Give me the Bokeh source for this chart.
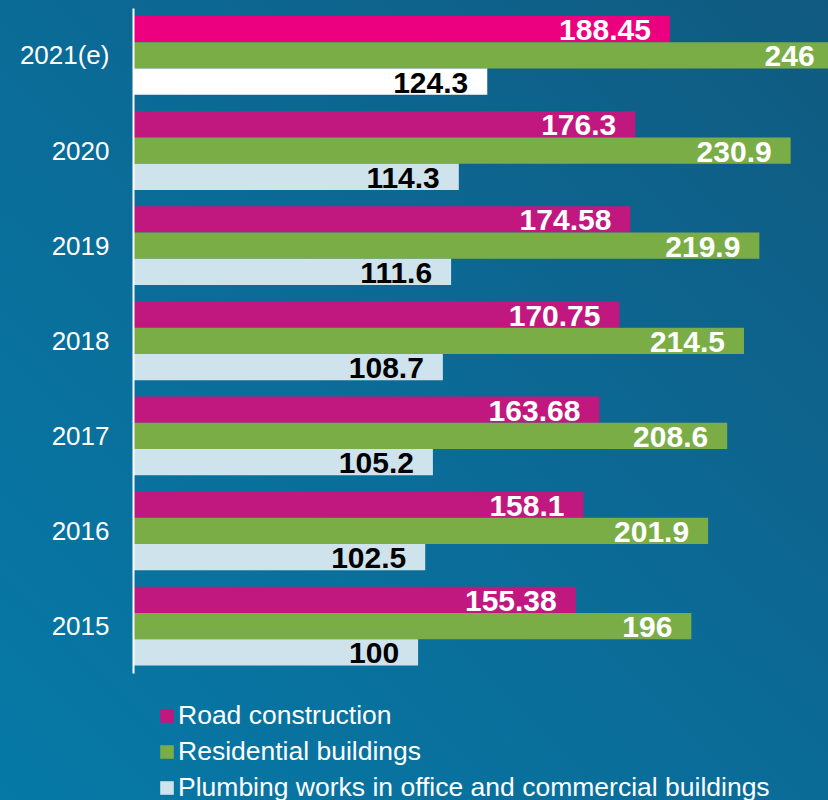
from bokeh.plotting import figure
from bokeh.models import ColumnDataSource, Legend, LegendItem, Range1d, FixedTicker
from bokeh.core.properties import value
from bokeh.embed import file_html
from bokeh.resources import INLINE

years = ["2015", "2016", "2017", "2018", "2019", "2020", "2021(e)"]
road = [155.38, 158.1, 163.68, 170.75, 174.58, 176.3, 188.45]
residential = [196, 201.9, 208.6, 214.5, 219.9, 230.9, 246]
plumbing = [100, 102.5, 105.2, 108.7, 111.6, 114.3, 124.3]

road_lbl = ["155.38", "158.1", "163.68", "170.75", "174.58", "176.3", "188.45"]
res_lbl = ["196", "201.9", "208.6", "214.5", "219.9", "230.9", "246"]
plu_lbl = ["100", "102.5", "105.2", "108.7", "111.6", "114.3", "124.3"]

road_col = ["#c0187f"] * 6 + ["#ec0080"]
res_col = ["#7bad47"] * 7
plu_col = ["#cfe3ec"] * 6 + ["#ffffff"]

h = 0.276
off = 0.276
pos = list(range(len(years)))

src = ColumnDataSource(dict(
    ypos=pos,
    y_road=[v + off for v in pos],
    y_res=pos,
    y_plu=[v - off for v in pos],
    road=road, residential=residential, plumbing=plumbing,
    road_lbl=road_lbl, res_lbl=res_lbl, plu_lbl=plu_lbl,
    road_col=road_col, res_col=res_col, plu_col=plu_col,
))

p = figure(width=828, height=800,
           y_range=Range1d(-1.834, 6.494),
           x_range=Range1d(0, 244.2), output_backend="svg",
           toolbar_location=None, min_border_left=133, min_border_right=0,
           min_border_top=8, min_border_bottom=0)

p.styles = {"background": "linear-gradient(to top right, #0679a6 0%, #0b6b97 50%, #105a80 100%)"}
p.background_fill_alpha = 0
p.border_fill_alpha = 0
p.outline_line_color = None
p.xgrid.visible = False
p.ygrid.visible = False
p.xaxis.visible = False

ax = p.yaxis[0]
ax.ticker = FixedTicker(ticks=pos)
ax.major_label_overrides = {i: y for i, y in zip(pos, years)}
ax.bounds = (-0.5, len(years) - 0.5)
ax.axis_line_color = "white"
ax.axis_line_width = 2
ax.major_tick_line_color = None
ax.minor_tick_line_color = None
ax.major_tick_out = 0
ax.major_tick_in = 0
ax.major_label_standoff = 24
ax.major_label_text_color = "white"
ax.major_label_text_font = "Liberation Sans"
ax.major_label_text_font_size = "26px"

r1 = p.hbar(y="y_road", right="road", left=0, height=h,
            fill_color="road_col", line_color=None, source=src)
r2 = p.hbar(y="y_res", right="residential", left=0, height=h,
            fill_color="res_col", line_color=None, source=src)
r3 = p.hbar(y="y_plu", right="plumbing", left=0, height=h,
            fill_color="plu_col", line_color=None, source=src)

common = dict(x_offset=-19, y_offset=1, text_align="right", text_baseline="middle",
              text_font=value("Liberation Sans"), text_font_size="30px",
              text_font_style="bold", source=src)
p.text(x="road", y="y_road", text="road_lbl", text_color="white", **common)
p.text(x="residential", y="y_res", text="res_lbl", text_color="white", **common)
p.text(x="plumbing", y="y_plu", text="plu_lbl", text_color="black", **common)

legend = Legend(items=[
    LegendItem(label="Road construction", renderers=[r1], index=0),
    LegendItem(label="Residential buildings", renderers=[r2], index=0),
    LegendItem(label="Plumbing works in office and commercial buildings", renderers=[r3], index=0),
], location=(25, -3), orientation="vertical")
legend.background_fill_alpha = 0
legend.border_line_color = None
legend.padding = 0
legend.margin = 0
legend.spacing = 5
legend.glyph_width = 17
legend.glyph_height = 17
legend.label_height = 30
legend.label_standoff = 3
legend.label_text_color = "white"
legend.label_text_font = "Liberation Sans"
legend.label_text_font_size = "26.5px"
p.add_layout(legend, "center")

open("out.html", "w").write(file_html(p, INLINE))
